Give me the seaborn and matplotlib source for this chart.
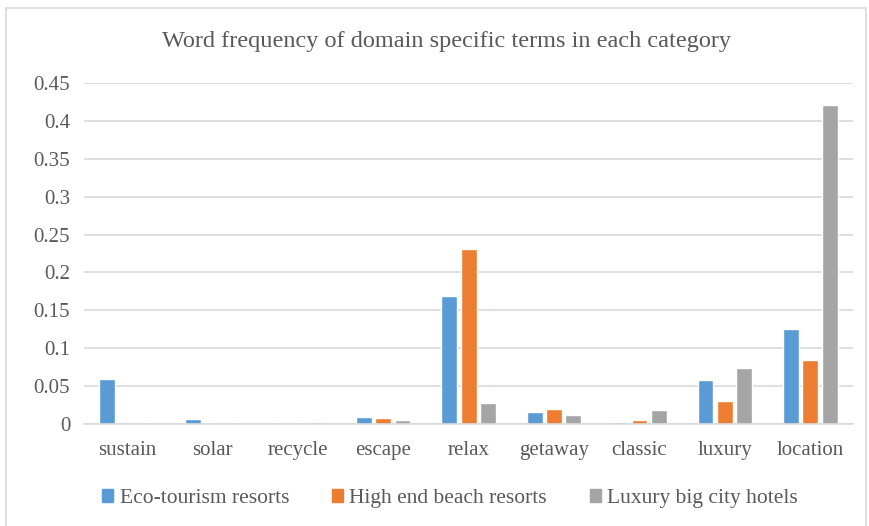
import seaborn as sns
import numpy as np
import pandas as pd
import matplotlib.pyplot as plt
from matplotlib.patches import Rectangle

# data
terms = ['sustain', 'solar', 'recycle', 'escape', 'relax', 'getaway', 'classic', 'luxury', 'location']
eco = [0.060, 0.007, 0.0, 0.009, 0.169, 0.016, 0.002, 0.058, 0.126]
beach = [0.0, 0.0, 0.0, 0.008, 0.231, 0.020, 0.005, 0.030, 0.084]
city = [0.0, 0.0, 0.002, 0.005, 0.028, 0.012, 0.019, 0.074, 0.421]
series = ['Eco-tourism resorts', 'High end beach resorts', 'Luxury big city hotels']
colors = ['#5B9BD5', '#ED7D31', '#A5A5A5']

df = pd.DataFrame({
    'term': terms * 3,
    'freq': eco + beach + city,
    'group': [series[0]] * 9 + [series[1]] * 9 + [series[2]] * 9,
})

sns.set_style('white')
plt.rcParams['font.family'] = ['Liberation Serif', 'DejaVu Serif']

fig = plt.figure(figsize=(8.69, 5.26), dpi=100)
ax = fig.add_axes([0.0967, 0.194, 0.885, 0.648])

sns.barplot(data=df, x='term', y='freq', hue='group', order=terms, hue_order=series,
            palette=colors, width=0.68, gap=0.18, ax=ax, saturation=1, legend=False)

ax.set_ylim(0, 0.45)
ax.set_xlim(-0.5, len(terms) - 0.5)
yt = [0, 0.05, 0.1, 0.15, 0.2, 0.25, 0.3, 0.35, 0.4, 0.45]
ax.set_yticks(yt)
ax.set_yticklabels(['0' if v == 0 else ('%g' % v) for v in yt])
ax.yaxis.grid(True, color='#D9D9D9', linewidth=1.2)
ax.set_axisbelow(True)
for s in ['top', 'right', 'left']:
    ax.spines[s].set_visible(False)
ax.spines['bottom'].set_color('#D9D9D9')
ax.spines['bottom'].set_linewidth(1.2)
ax.tick_params(axis='both', length=0, labelsize=15, colors='#595959', pad=10)
ax.tick_params(axis='x', pad=12)
ax.set_xlabel('')
ax.set_ylabel('')

fig.text(0.514, 0.922, 'Word frequency of domain specific terms in each category',
         ha='center', va='center', fontsize=17.5, color='#595959')

handles = [Rectangle((0, 0), 1, 1, color=c) for c in colors]
fig.legend(handles, series, loc='center', bbox_to_anchor=(0.518, 0.052), ncol=3,
           frameon=False, fontsize=15.5, labelcolor='#595959', handlelength=0.5,
           handleheight=0.5, handletextpad=0.3, columnspacing=2.0)

# chart area border
fig.patches.append(Rectangle((6 / 869, -0.05), 860 / 869, 1.05 - 8 / 526,
                             transform=fig.transFigure, fill=False,
                             edgecolor='#D9D9D9', linewidth=1.2))

fig.savefig('out.png', dpi=100)
